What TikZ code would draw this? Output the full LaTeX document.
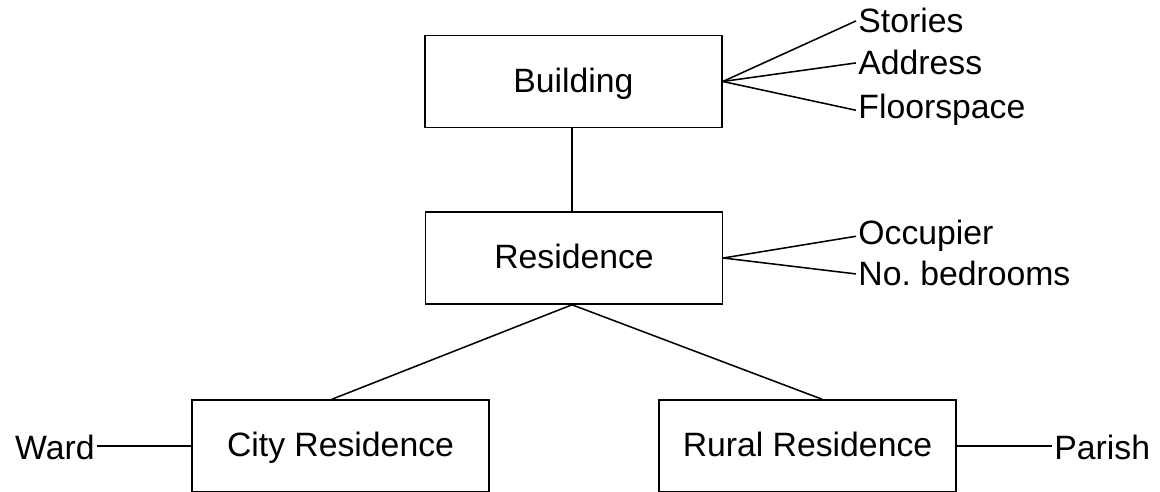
\documentclass[tikz,border=0pt]{standalone}
\usepackage{fontspec}
\setmainfont{Liberation Sans}
\usetikzlibrary{calc}
\tikzset{
  entity/.style = {draw, line width=1.1pt, minimum width=7.425cm, minimum height=2.3cm,
                   inner sep=0pt, text height=15pt, text depth=0pt,
                   font=\fontsize{24}{29}\selectfont},
  attr/.style   = {inner sep=1.5pt, font=\fontsize{24}{29}\selectfont},
  link/.style   = {line width=1.1pt, draw=black}
}

\begin{document}
\frenchspacing
\begin{tikzpicture}[x=0.025cm, y=-0.025cm]
\useasboundingbox (0,0) rectangle (1160,492);

% Entity boxes
\node[entity] at (573.5, 81.5) (building)  {Building};
\node[entity] at (574, 258)    (residence) {Residence};
\node[entity] at (340.5, 446)  (city)      {City Residence};
\node[entity] at (807.5, 446)  (rural)     {Rural Residence};

% Attributes of Building
\node[attr, anchor=base west] at (856, 33)  (stories)    {Stories};
\node[attr, anchor=base west] at (856, 75)  (address)    {Address};
\node[attr, anchor=base west] at (856, 119) (floorspace) {Floorspace};

% Attributes of Residence
\node[attr, anchor=base west] at (856, 245) (occupier) {Occupier};
\node[attr, anchor=base west] at (856, 286) (bedrooms) {No.\ bedrooms};

% Attributes of the subtypes
\node[attr, anchor=base east] at (97, 459)   (ward)   {Ward};
\node[attr, anchor=base west] at (1052, 459) (parish) {Parish};

% Hierarchy
\draw[link] ($(building.south)+(-1.5,0)$) -- ($(residence.north)+(-2,0)$);
\draw[link] ($(residence.south)+(-2,0)$) -- ($(city.north)+(-8.5,0)$);
\draw[link] ($(residence.south)+(-2,0)$) -- ($(rural.north)+(14.5,0)$);

% Attribute lines
\foreach \a in {stories, address, floorspace}
  \draw[link] (building.east) -- (\a.west);
\foreach \a in {occupier, bedrooms}
  \draw[link] (residence.east) -- (\a.west);
\draw[link] (city.west) -- (city.west -| ward.east);
\draw[link] (rural.east) -- (rural.east -| parish.west);
\end{tikzpicture}
\end{document}
